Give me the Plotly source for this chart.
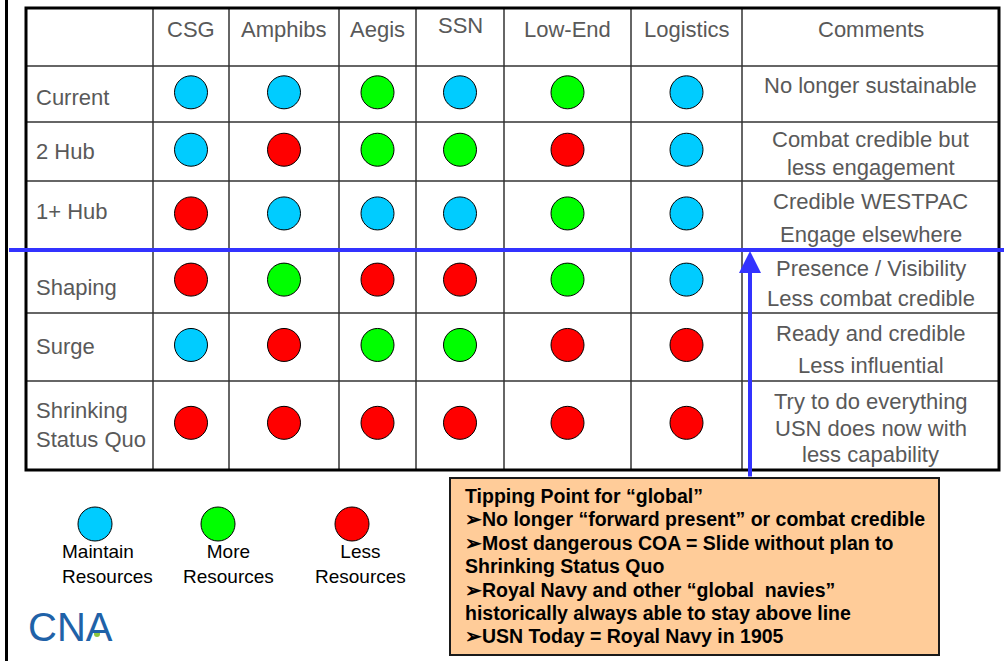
import plotly.graph_objects as go

# ---------------- data ----------------
columns = ["CSG", "Amphibs", "Aegis", "SSN", "Low-End", "Logistics"]
rows = ["Current", "2 Hub", "1+ Hub", "Shaping", "Surge", "Shrinking<br>Status Quo"]
# M = maintain resources, P = more resources, L = less resources
status = [
    ["M", "M", "P", "M", "P", "M"],
    ["M", "L", "P", "P", "L", "M"],
    ["L", "M", "M", "M", "P", "M"],
    ["L", "P", "L", "L", "P", "M"],
    ["M", "L", "P", "P", "L", "L"],
    ["L", "L", "L", "L", "L", "L"],
]
comments = [
    ["No longer sustainable"],
    ["Combat credible but", "less engagement"],
    ["Credible WESTPAC", "Engage elsewhere"],
    ["Presence / Visibility", "Less combat credible"],
    ["Ready and credible", "Less influential"],
    ["Try to do everything", "USN does now with", "less capability"],
]
comments_header = "Comments"
legend_keys = ["M", "P", "L"]
legend_labels = ["Maintain<br>Resources", "More<br>Resources", "Less<br>Resources"]
callout_lines = [
    "Tipping Point for \u201cglobal\u201d",
    "\u27a2No longer \u201cforward present\u201d or combat credible",
    "\u27a2Most dangerous COA = Slide without plan to",
    "Shrinking Status Quo",
    "\u27a2Royal Navy and other \u201cglobal  navies\u201d",
    "historically always able to stay above line",
    "\u27a2USN Today = Royal Navy in 1905",
]
tipping_row = 3  # line drawn above this row index

# ---------------- layout / style ----------------
W, H = 1004, 661
col_edges = [26, 153, 229, 339, 416, 504, 631, 742, 999]
row_edges = [8, 66, 122, 181, 250, 313, 381, 470]
colors = {"M": "#00CCFF", "P": "#00FF00", "L": "#FF0000"}
text_gray = "#595959"
label_dy = [3, 0, -4, 6, -1, -1]
comment_frac = [[0.34], [0.3, 0.77], [0.3, 0.77], [0.3, 0.77], [0.3, 0.77], [0.225, 0.53, 0.83]]
legend_x = [95, 218, 352]
legend_y = 524
blue = "#3333FF"
box = dict(x0=450, x1=939, y0=478, y1=655)
callout_first_y, callout_step = 496, 23.4

fig = go.Figure()

# circles in table
for key in ["M", "P", "L"]:
    xs, ys = [], []
    for i, r in enumerate(status):
        for j, s in enumerate(r):
            if s == key:
                xs.append((col_edges[j + 1] + col_edges[j + 2]) / 2)
                top, bot = row_edges[i + 1], row_edges[i + 2]
                ys.append(top + 0.47 * (bot - top))
    fig.add_trace(go.Scatter(x=xs, y=ys, mode="markers", hoverinfo="skip",
                             marker=dict(size=33, color=colors[key],
                                         line=dict(color="#000000", width=1))))

# legend circles
fig.add_trace(go.Scatter(x=legend_x, y=[legend_y] * 3, mode="markers", hoverinfo="skip",
                         marker=dict(size=34, color=[colors[k] for k in legend_keys],
                                     line=dict(color="#000000", width=1))))

shapes = []
# outer page left line
shapes.append(dict(type="line", x0=6.5, x1=6.5, y0=0, y1=H, line=dict(color="black", width=3)))
# inner grid lines
for x in col_edges[1:-1]:
    shapes.append(dict(type="line", x0=x, x1=x, y0=row_edges[0], y1=row_edges[-1],
                       line=dict(color="#333333", width=1.5)))
for y in row_edges[1:-1]:
    shapes.append(dict(type="line", x0=col_edges[0], x1=col_edges[-1], y0=y, y1=y,
                       line=dict(color="#333333", width=1.5)))
# outer table border
shapes.append(dict(type="rect", x0=col_edges[0], x1=col_edges[-1], y0=row_edges[0], y1=row_edges[-1],
                   line=dict(color="black", width=3)))
# tipping line
ty = row_edges[tipping_row + 1]
shapes.append(dict(type="line", x0=9, x1=W, y0=ty, y1=ty, line=dict(color=blue, width=4)))
# callout box
shapes.append(dict(type="rect", fillcolor="#FFCC99", line=dict(color="#1a1a1a", width=2), **box))

annotations = []
font_main = "Liberation Sans, Arial, sans-serif"
# header
for j, c in enumerate(columns + [comments_header]):
    x = (col_edges[j + 1] + col_edges[j + 2]) / 2
    annotations.append(dict(x=x, y=29 if c != "SSN" else 25, text=c, showarrow=False,
                            font=dict(size=22, color=text_gray, family=font_main)))
# row labels
for i, r in enumerate(rows):
    top, bot = row_edges[i + 1], row_edges[i + 2]
    annotations.append(dict(x=34, y=(top + bot) / 2 + label_dy[i], text=r, showarrow=False,
                            xanchor="left", align="left",
                            font=dict(size=22, color=text_gray, family=font_main)))
# comments
cx = (col_edges[-2] + col_edges[-1]) / 2
for i, lines in enumerate(comments):
    top, bot = row_edges[i + 1], row_edges[i + 2]
    for line, f in zip(lines, comment_frac[i]):
        annotations.append(dict(x=cx, y=top + f * (bot - top), text=line, showarrow=False,
                                font=dict(size=22, color=text_gray, family=font_main)))
# legend labels
annotations.append(dict(x=60, y=564, text=legend_labels[0], showarrow=False, xanchor="left",
                        align="left", font=dict(size=19, color="black", family=font_main)))
for k in (1, 2):
    annotations.append(dict(x=[228, 360][k - 1], y=564, text=legend_labels[k], showarrow=False,
                            align="center", font=dict(size=19, color="black", family=font_main)))
# callout text
for n, line in enumerate(callout_lines):
    annotations.append(dict(x=box["x0"] + 13, y=callout_first_y + n * callout_step, text=line,
                            showarrow=False, xanchor="left", align="left",
                            font=dict(size=19.5, color="black", family=font_main, weight="bold")))
# arrow
annotations.append(dict(x=750, y=ty + 1, ax=750, ay=box["y0"], xref="x", yref="y", axref="x", ayref="y",
                        text="", showarrow=True, arrowhead=2, arrowsize=1.1, arrowwidth=4,
                        arrowcolor=blue))
# CNA logo
annotations.append(dict(x=26, y=627, text="CNA", showarrow=False, xanchor="left",
                        font=dict(size=40, color="#1F62A8", family=font_main)))

fig.add_trace(go.Scatter(x=[97], y=[634], mode="markers", hoverinfo="skip",
                         marker=dict(size=6, color="#8DC63F")))

fig.update_layout(
    width=W, height=H, margin=dict(l=0, r=0, t=0, b=0),
    paper_bgcolor="white", plot_bgcolor="white", showlegend=False,
    xaxis=dict(range=[0, W], visible=False, fixedrange=True),
    yaxis=dict(range=[H, 0], visible=False, fixedrange=True),
    shapes=shapes, annotations=annotations,
)

fig.write_html("out.html", include_plotlyjs=True, config={"displayModeBar": False},
               post_script="document.body.style.margin='0';document.body.style.overflow='hidden';")
